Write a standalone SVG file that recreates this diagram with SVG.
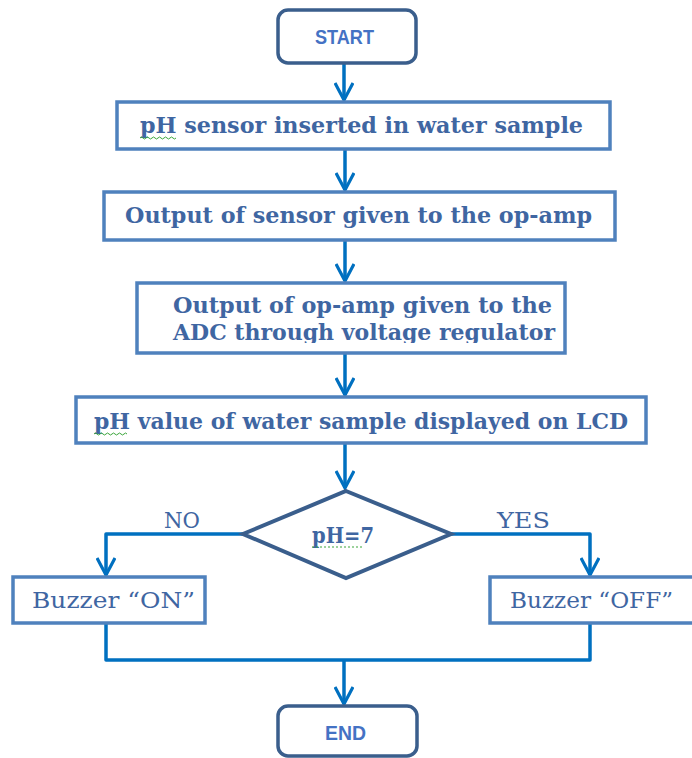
<svg xmlns="http://www.w3.org/2000/svg" width="692" height="758" viewBox="0 0 692 758">
<style>
.bg{fill:#ffffff}
.box{fill:#ffffff;stroke:#4f81bd;stroke-width:3.5}
.term{fill:#ffffff;stroke:#3a5e8c;stroke-width:3.5}
.dec{fill:#ffffff;stroke:#3a5e8c;stroke-width:4;stroke-linejoin:miter}
.t{font-family:"DejaVu Serif","Liberation Serif",serif;font-size:22px;font-weight:bold;fill:#3f66a2}
.ts{font-family:"DejaVu Serif","Liberation Serif",serif;font-size:22px;fill:#3f66a2}
.tt{font-family:"Liberation Sans","DejaVu Sans",sans-serif;font-size:20px;font-weight:bold;fill:#4472c4}
.c{fill:none;stroke:#0070c0;stroke-width:3.5;stroke-linejoin:round}
.sp{fill:none;stroke:#3aa63a;stroke-width:1}
.spd{fill:none;stroke:#3aa63a;stroke-width:1.2;stroke-dasharray:2 2}
</style>
<defs>
<marker id="arr" viewBox="0 0 20 20" refX="18" refY="10" markerWidth="20" markerHeight="20" orient="auto" markerUnits="userSpaceOnUse">
<path d="M1,1 L18,10 L1,19" fill="none" stroke="#0070c0" stroke-width="3.2" stroke-linejoin="miter"/>
</marker>
<clipPath id="clip3"><rect x="137" y="283" width="428" height="60"/></clipPath>
</defs>
<rect class="bg" x="0" y="0" width="692" height="758"/>
<g id="connectors">
<line class="c" x1="344" y1="63" x2="344" y2="100" marker-end="url(#arr)"/>
<line class="c" x1="345" y1="150" x2="345" y2="190" marker-end="url(#arr)"/>
<line class="c" x1="345" y1="240" x2="345" y2="281" marker-end="url(#arr)"/>
<line class="c" x1="345" y1="353" x2="345" y2="395" marker-end="url(#arr)"/>
<line class="c" x1="345" y1="443" x2="345" y2="488" marker-end="url(#arr)"/>
<polyline class="c" points="243,534 106,534 106,575" marker-end="url(#arr)"/>
<polyline class="c" points="451,534 590,534 590,575" marker-end="url(#arr)"/>
<polyline class="c" points="106,623 106,660 590,660 590,623"/>
<line class="c" x1="344" y1="660" x2="344" y2="704" marker-end="url(#arr)"/>
<text class="ts" x="164" y="528" textLength="36" lengthAdjust="spacingAndGlyphs">NO</text>
<text class="ts" x="497" y="528" textLength="53" lengthAdjust="spacingAndGlyphs">YES</text>
</g>
<g id="start">
<rect class="term" x="278" y="10" width="138" height="53" rx="10"/>
<text class="tt" x="315" y="44" textLength="59" lengthAdjust="spacingAndGlyphs">START</text>
</g>
<g id="sensor">
<rect class="box" x="117" y="102" width="493" height="47"/>
<text class="t" x="140" y="133" textLength="443" lengthAdjust="spacingAndGlyphs">pH sensor inserted in water sample</text>
<path class="sp" d="M140,138 q1.5,-2 3,0 t3,0 t3,0 t3,0 t3,0 t3,0 t3,0 t3,0 t3,0 t3,0 t3,0 t3,0"/>
</g>
<g id="opamp">
<rect class="box" x="104" y="192" width="511" height="48"/>
<text class="t" x="125" y="223" textLength="467" lengthAdjust="spacingAndGlyphs">Output of sensor given to the op-amp</text>
</g>
<g id="adc">
<rect class="box" x="137" y="283" width="428" height="70"/>
<g clip-path="url(#clip3)">
<text class="t" x="173" y="313" textLength="379" lengthAdjust="spacingAndGlyphs">Output of op-amp given to the</text>
<text class="t" x="173" y="340" textLength="382" lengthAdjust="spacingAndGlyphs">ADC through voltage regulator</text>
</g>
</g>
<g id="display">
<rect class="box" x="76" y="397" width="570" height="46"/>
<text class="t" x="94" y="429" textLength="534" lengthAdjust="spacingAndGlyphs">pH value of water sample displayed on LCD</text>
<path class="sp" d="M94,434 q1.5,-2 3,0 t3,0 t3,0 t3,0 t3,0 t3,0 t3,0 t3,0 t3,0 t3,0 t3,0"/>
</g>
<g id="decision">
<polygon class="dec" points="346,491 451,534 346,578 243,534"/>
<text class="t" x="312" y="543" textLength="62" lengthAdjust="spacingAndGlyphs">pH=7</text>
<line class="spd" x1="312" y1="547" x2="364" y2="547"/>
</g>
<g id="buzzer-on">
<rect class="box" x="13" y="577" width="192" height="46"/>
<text class="ts" x="32" y="608" textLength="163" lengthAdjust="spacingAndGlyphs">Buzzer “ON”</text>
</g>
<g id="buzzer-off">
<rect class="box" x="490" y="577" width="210" height="46"/>
<text class="ts" x="510" y="608" textLength="163" lengthAdjust="spacingAndGlyphs">Buzzer “OFF”</text>
</g>
<g id="end">
<rect class="term" x="278" y="706" width="139" height="50" rx="10"/>
<text class="tt" x="325" y="740" textLength="41" lengthAdjust="spacingAndGlyphs">END</text>
</g>
</svg>
